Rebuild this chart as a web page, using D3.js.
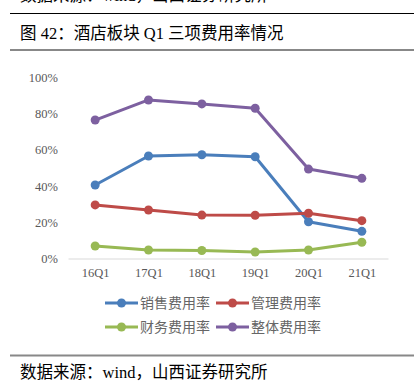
<!DOCTYPE html>
<html>
<head>
<meta charset="utf-8">
<script src="https://cdn.jsdelivr.net/npm/d3@7"></script>
<style>
  body { margin: 0; background: #fff; }
  svg { display: block; }
</style>
</head>
<body>
<svg id="chart"></svg>
<script>
// 数据
let categories = ['16Q1', '17Q1', '18Q1', '19Q1', '20Q1', '21Q1'];
let seriesNames = ['销售费用率', '管理费用率', '财务费用率', '整体费用率'];
let sales   = [0.406, 0.566, 0.573, 0.562, 0.203, 0.150];
let admin   = [0.296, 0.268, 0.240, 0.239, 0.250, 0.209];
let finance = [0.069, 0.047, 0.044, 0.036, 0.047, 0.090];
let total   = [0.765, 0.876, 0.854, 0.830, 0.494, 0.443];
let yTicks  = [0, 0.2, 0.4, 0.6, 0.8, 1.0];

let colors = ['#4a7ebb', '#be4b48', '#98b954', '#7d60a0'];
let series = [sales, admin, finance, total];

let width = 414, height = 391;
let cjk = '"Noto Sans CJK SC", sans-serif';
let serif = '"Liberation Serif", "DejaVu Serif", serif';
let mixed = '"Liberation Serif", "Noto Sans CJK SC", serif';

let svg = d3.select('#chart')
    .attr('width', width)
    .attr('height', height);

// 顶部被截断的来源文字
svg.append('text')
    .attr('x', 20).attr('y', 1)
    .style('font-family', mixed).style('font-size', '16.5px')
    .attr('fill', '#000')
    .text('数据来源：wind，山西证券研究所');

svg.append('line')
    .attr('x1', 10).attr('x2', 414).attr('y1', 13.5).attr('y2', 13.5)
    .attr('stroke', '#000').attr('stroke-width', 1);

// 标题
svg.append('text')
    .attr('x', 20).attr('y', 38.5)
    .style('font-family', mixed).style('font-size', '16.5px')
    .attr('fill', '#000')
    .text('图 42：酒店板块 Q1 三项费用率情况');

svg.append('line')
    .attr('x1', 10).attr('x2', 414).attr('y1', 50).attr('y2', 50)
    .attr('stroke', '#888').attr('stroke-width', 2);

// 比例尺
let x = d3.scalePoint().domain(categories).range([68.5, 388.5]).padding(0.5);
let y = d3.scaleLinear().domain([0, 1]).range([258.5, 77.5]);

// y轴
let yAxis = svg.append('g')
    .attr('transform', 'translate(60,0)')
    .call(d3.axisLeft(y).tickValues(yTicks).tickFormat(d3.format('.0%')).tickSize(0).tickPadding(2));
yAxis.select('.domain').remove();
yAxis.selectAll('text')
    .style('font-family', serif).style('font-size', '12.5px').attr('fill', '#595959');

// x轴
let xAxis = svg.append('g')
    .attr('transform', 'translate(0,' + y(0) + ')')
    .call(d3.axisBottom(x).tickSize(0).tickPadding(10));
xAxis.select('.domain').attr('stroke', '#d9d9d9').attr('stroke-width', 1)
    .attr('d', 'M68.5,0.5H388.5');
xAxis.selectAll('text')
    .style('font-family', serif).style('font-size', '12.5px').attr('fill', '#595959');

// 折线
let line = d3.line()
    .x((d, i) => x(categories[i]))
    .y(d => y(d));

series.forEach((s, k) => {
    svg.append('path')
        .datum(s)
        .attr('d', line)
        .attr('fill', 'none')
        .attr('stroke', colors[k])
        .attr('stroke-width', 3)
        .attr('stroke-linejoin', 'round');
    svg.selectAll('.dot' + k)
        .data(s)
        .enter()
        .append('circle')
        .attr('cx', (d, i) => x(categories[i]))
        .attr('cy', d => y(d))
        .attr('r', 4.5)
        .attr('fill', colors[k]);
});

// 图例
let legendPos = [[105, 303], [216, 303], [105, 327], [216, 327]];
seriesNames.forEach((name, k) => {
    let g = svg.append('g')
        .attr('transform', 'translate(' + legendPos[k][0] + ',' + legendPos[k][1] + ')');
    g.append('line')
        .attr('x1', 0).attr('x2', 33).attr('y1', 0).attr('y2', 0)
        .attr('stroke', colors[k]).attr('stroke-width', 3);
    g.append('circle')
        .attr('cx', 16.5).attr('cy', 0).attr('r', 4.5)
        .attr('fill', colors[k]);
    g.append('text')
        .attr('x', 35).attr('y', 0).attr('dy', '0.36em')
        .style('font-family', cjk).style('font-size', '14px')
        .attr('fill', '#666')
        .text(name);
});

// 底部
svg.append('line')
    .attr('x1', 10).attr('x2', 414).attr('y1', 355.5).attr('y2', 355.5)
    .attr('stroke', '#888').attr('stroke-width', 2);

svg.append('text')
    .attr('x', 20).attr('y', 378)
    .style('font-family', mixed).style('font-size', '16.5px')
    .attr('fill', '#000')
    .text('数据来源：wind，山西证券研究所');
</script>
</body>
</html>
